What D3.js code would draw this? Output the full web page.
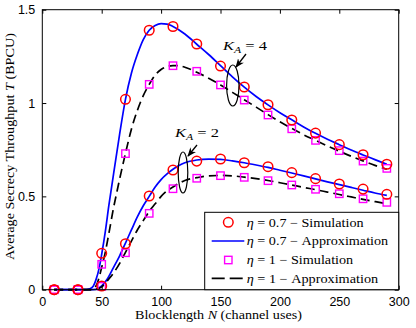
<!DOCTYPE html>
<html><head><meta charset="utf-8">
<script src="https://cdn.jsdelivr.net/npm/d3@7"></script>
<style>body{margin:0;background:#fff}svg{display:block}</style>
</head><body><svg id="c" width="416" height="328"></svg>
<script>
// ---- data ----
const simN = [10,30,50,70,90,110,130,150,170,190,210,230,250,270,290];
const simK4eta07 = [0,0,0.195,1.02,1.39,1.41,1.316,1.198,1.086,0.991,0.909,0.839,0.777,0.723,0.672];
const simK4eta1  = [0,0,0.136,0.729,1.10,1.20,1.17,1.097,1.016,0.936,0.862,0.80,0.745,0.689,0.650];
const simK2eta07 = [0,0,0.02,0.246,0.502,0.641,0.689,0.70,0.68,0.659,0.627,0.595,0.566,0.539,0.511];
const simK2eta1  = [0,0,0.018,0.198,0.409,0.541,0.597,0.611,0.602,0.584,0.561,0.538,0.514,0.487,0.468];

const apxK4eta07N = [10,35,40,43,45,48,50,53,56,60,65,70,75,80,85,90,95,100,105,110,120,130,140,150,160,170,180,190,200,210,220,230,240,250,260,270,280,290];
const apxK4eta07  = [0,0,0.005,0.02,0.05,0.12,0.19,0.31,0.45,0.62,0.83,1.02,1.16,1.26,1.34,1.39,1.415,1.425,1.423,1.41,1.37,1.315,1.26,1.2,1.14,1.085,1.035,0.99,0.948,0.91,0.872,0.838,0.806,0.777,0.748,0.722,0.697,0.672];
const apxK4eta1N = [10,40,43,46,48,50,53,56,60,62,65,70,75,80,85,90,95,100,105,110,115,120,130,140,150,160,170,180,190,200,210,220,230,240,250,260,270,280,290];
const apxK4eta1  = [0,0,0.005,0.03,0.07,0.12,0.2,0.3,0.44,0.5,0.59,0.73,0.86,0.96,1.04,1.10,1.15,1.18,1.195,1.2,1.2,1.192,1.165,1.133,1.097,1.057,1.018,0.978,0.938,0.9,0.864,0.83,0.8,0.77,0.742,0.715,0.69,0.666,0.645];
const apxK2eta07N = [10,40,45,50,55,60,65,70,75,80,85,90,95,100,105,110,115,120,130,140,150,160,170,180,190,200,210,220,230,240,250,260,270,280,290];
const apxK2eta07  = [0,0,0.002,0.02,0.06,0.12,0.18,0.25,0.32,0.39,0.45,0.50,0.55,0.59,0.62,0.645,0.665,0.68,0.695,0.7,0.698,0.69,0.68,0.668,0.655,0.64,0.625,0.61,0.594,0.578,0.563,0.548,0.533,0.518,0.505];
const apxK2eta1N = [10,42,45,50,55,60,65,70,75,80,85,90,95,100,105,110,115,120,130,140,150,160,170,180,190,200,210,220,230,240,250,260,270,280,290];
const apxK2eta1  = [0,0,0.002,0.015,0.05,0.09,0.14,0.2,0.26,0.32,0.37,0.42,0.46,0.5,0.53,0.55,0.57,0.585,0.6,0.61,0.612,0.61,0.603,0.595,0.585,0.573,0.561,0.548,0.536,0.523,0.51,0.497,0.484,0.472,0.46];

const xTicks = [0,50,100,150,200,250,300];
const yTicks = [0,0.5,1,1.5];
const legendLabels = ["= 0.7 − Simulation","= 0.7 − Approximation","= 1 − Simulation","= 1 − Approximation"];

// ---- drawing ----
const svg = d3.select("#c");
const x = d3.scaleLinear().domain([0,300]).range([42.3,398.7]);
const y = d3.scaleLinear().domain([0,1.5]).range([289.7,9.7]);
const serif = "'Liberation Serif','Times New Roman',serif";
const sans = "'Liberation Sans',Arial,Helvetica,sans-serif";

const line = d3.line().x(d=>x(d[0])).y(d=>y(d[1])).curve(d3.curveMonotoneX);
const zip = (a,b)=>a.map((v,i)=>[v,b[i]]);

// fit a text group horizontally to target width by scaling (mimics wider LaTeX font)
function fitText(g, t, tx, ty, w, rot){
  const nat = t.node().getComputedTextLength();
  const s = w/nat;
  g.attr("transform",`translate(${tx},${ty})${rot?" rotate(-90)":""} scale(${s},1)`);
}

function drawApprox(N,V,color,dash){
  svg.append("path").datum(zip(N,V)).attr("d",line).attr("fill","none")
    .attr("stroke",color).attr("stroke-width",1.7).attr("stroke-dasharray",dash||null);
}
drawApprox(apxK4eta07N,apxK4eta07,"#0000ff");
drawApprox(apxK2eta07N,apxK2eta07,"#0000ff");
drawApprox(apxK4eta1N,apxK4eta1,"#000","9,5");
drawApprox(apxK2eta1N,apxK2eta1,"#000","9,5");

function drawSquares(V){
  svg.append("g").selectAll("rect").data(zip(simN,V)).join("rect")
    .attr("x",d=>x(d[0])-3.7).attr("y",d=>y(d[1])-3.7).attr("width",7.4).attr("height",7.4)
    .attr("fill","none").attr("stroke","#ff00ff").attr("stroke-width",1.4);
}
function drawCircles(V){
  svg.append("g").selectAll("circle").data(zip(simN,V)).join("circle")
    .attr("cx",d=>x(d[0])).attr("cy",d=>y(d[1])).attr("r",4.8)
    .attr("fill","none").attr("stroke","#ff0000").attr("stroke-width",1.5);
}
drawSquares(simK4eta1); drawSquares(simK2eta1);
drawCircles(simK4eta07); drawCircles(simK2eta07);

// axes box
svg.append("rect").attr("x",x(0)).attr("y",y(1.5)).attr("width",x(300)-x(0)).attr("height",y(0)-y(1.5))
  .attr("fill","none").attr("stroke","#000").attr("stroke-width",1);

// ticks
const ax = svg.append("g");
ax.append("g").attr("transform",`translate(0,${y(0)})`)
  .call(d3.axisBottom(x).tickValues(xTicks).tickSize(-4).tickPadding(7).tickFormat(d3.format("d")));
ax.append("g").attr("transform",`translate(0,${y(1.5)})`)
  .call(d3.axisTop(x).tickValues(xTicks).tickSize(-4).tickFormat(""));
ax.append("g").attr("transform",`translate(${x(0)},0)`)
  .call(d3.axisLeft(y).tickValues(yTicks).tickSize(-4).tickPadding(7).tickFormat(d=>String(d)));
ax.append("g").attr("transform",`translate(${x(300)},0)`)
  .call(d3.axisRight(y).tickValues(yTicks).tickSize(-4).tickFormat(""));
ax.selectAll(".domain").remove();
ax.selectAll(".tick line").attr("stroke","#000");
ax.selectAll(".tick text").attr("font-family",sans).attr("font-size",12.5).attr("fill","#000");

// axis labels
const xg = svg.append("g");
const xl = xg.append("text").attr("x",0).attr("y",0).attr("font-family",serif).attr("font-size",12);
xl.append("tspan").text("Blocklength ");
xl.append("tspan").attr("font-style","italic").text("N");
xl.append("tspan").text(" (channel uses)");
fitText(xg, xl, 135, 319, 167, false);
const yg = svg.append("g");
const yl = yg.append("text").attr("x",0).attr("y",0).attr("font-family",serif).attr("font-size",12);
yl.append("tspan").text("Average Secrecy Throughput ");
yl.append("tspan").attr("font-style","italic").text("T");
yl.append("tspan").text(" (BPCU)");
fitText(yg, yl, 13.5, 260, 227, true);

// annotations
const defs = svg.append("defs");
defs.append("marker").attr("id","ah").attr("viewBox","0 0 10 10").attr("refX",9).attr("refY",5)
  .attr("markerWidth",7).attr("markerHeight",7).attr("orient","auto")
  .append("path").attr("d","M0,1 L10,5 L0,9 L3,5 Z").attr("fill","#000");
function annot(tx,ty,val,ax1,ay1,ax2,ay2,ecx,ecy,rx,ry){
  const g = svg.append("g");
  const t = g.append("text").attr("x",0).attr("y",0).attr("font-family",serif).attr("font-size",12.5);
  t.append("tspan").attr("font-style","italic").text("K");
  t.append("tspan").attr("font-style","italic").attr("font-size",9).attr("dy",3).text("A");
  t.append("tspan").attr("dy",-3).text(" = "+val);
  fitText(g, t, tx, ty, 44, false);
  svg.append("line").attr("x1",ax1).attr("y1",ay1).attr("x2",ax2).attr("y2",ay2)
    .attr("stroke","#000").attr("stroke-width",1.3).attr("marker-end","url(#ah)");
  svg.append("ellipse").attr("cx",ecx).attr("cy",ecy).attr("rx",rx).attr("ry",ry)
    .attr("fill","none").attr("stroke","#000").attr("stroke-width",1.2);
}
annot(223,50,4,246,54,236,67,232.8,85.5,6.2,20.5);
annot(175,137,2,197,145,188,156,183,172.5,4.8,20.5);

// legend
const lg = svg.append("g");
lg.append("rect").attr("x",204.7).attr("y",212.3).attr("width",x(300)-204.7).attr("height",y(0)-212.3)
  .attr("fill","#fff").attr("stroke","#000").attr("stroke-width",1);
const rowsY = [222.3,241,260,278.3];
const rowsW = [117,141.6,106.6,131.6];
lg.append("circle").attr("cx",228.3).attr("cy",rowsY[0]).attr("r",4.8).attr("fill","none").attr("stroke","#ff0000").attr("stroke-width",1.5);
lg.append("line").attr("x1",211.7).attr("x2",244.3).attr("y1",rowsY[1]).attr("y2",rowsY[1]).attr("stroke","#0000ff").attr("stroke-width",1.7);
lg.append("rect").attr("x",228.3-3.7).attr("y",rowsY[2]-3.7).attr("width",7.4).attr("height",7.4).attr("fill","none").attr("stroke","#ff00ff").attr("stroke-width",1.4);
lg.append("line").attr("x1",211.7).attr("x2",244.3).attr("y1",rowsY[3]).attr("y2",rowsY[3]).attr("stroke","#000").attr("stroke-width",1.7).attr("stroke-dasharray","13,5");
legendLabels.forEach((s,i)=>{
  const g = lg.append("g");
  const t = g.append("text").attr("x",0).attr("y",0).attr("font-family",serif).attr("font-size",12);
  t.append("tspan").attr("font-style","italic").text("η");
  t.append("tspan").text(" " + s.replace(" − ","  −  ").replace("= ","=  ").replace(/^=/,"  ="));
  fitText(g, t, 246.7, rowsY[i]+4.2, rowsW[i], false);
});
</script></body></html>
